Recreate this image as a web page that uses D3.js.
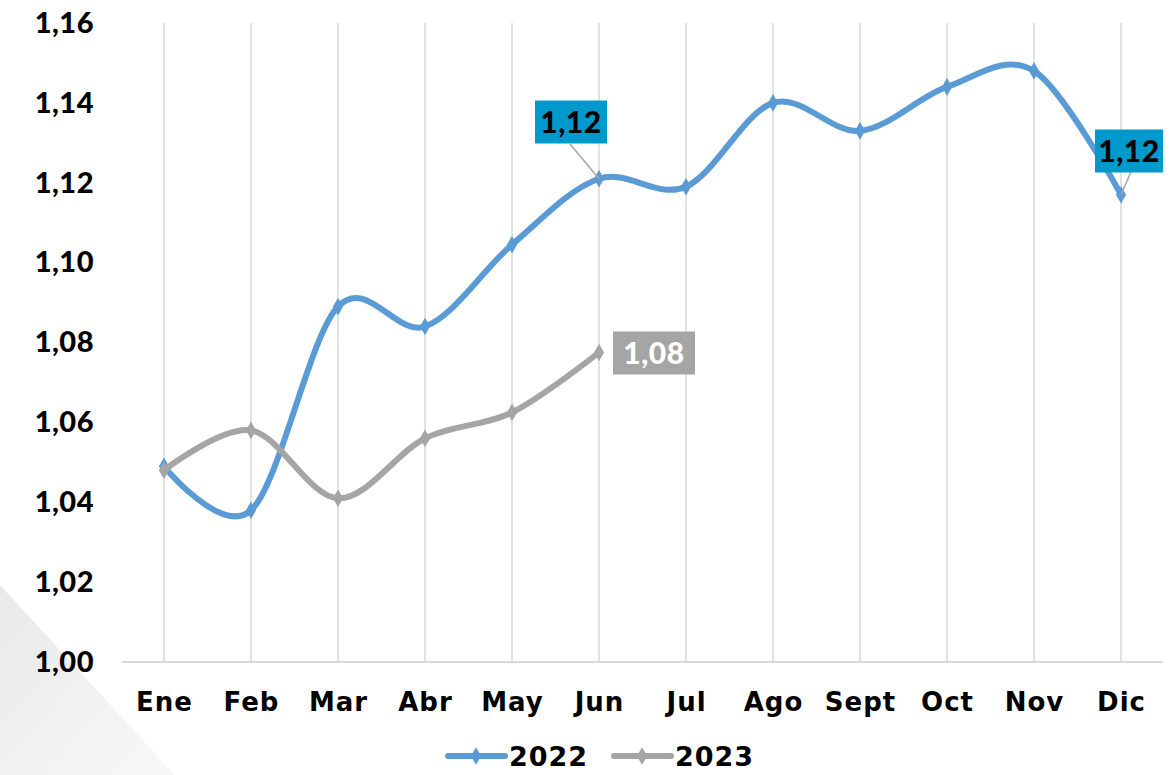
<!DOCTYPE html>
<html>
<head>
<meta charset="utf-8">
<script src="https://cdn.jsdelivr.net/npm/d3@7"></script>
<style>
  body { margin: 0; background: #fff; }
  text { font-family: "Lato", "Open Sans", sans-serif; font-weight: 900; }
</style>
</head>
<body>
<svg id="chart" width="1175" height="775"></svg>
<script>
var months = ["Ene", "Feb", "Mar", "Abr", "May", "Jun", "Jul", "Ago", "Sept", "Oct", "Nov", "Dic"];
var values2022 = [1.049, 1.038, 1.089, 1.084, 1.1045, 1.121, 1.119, 1.140, 1.133, 1.144, 1.148, 1.117];
var values2023 = [1.048, 1.058, 1.041, 1.056, 1.0625, 1.0775];
var yTicks = [1.00, 1.02, 1.04, 1.06, 1.08, 1.10, 1.12, 1.14, 1.16];
var seriesNames = ["2022", "2023"];
var seriesColors = ["#5b9bd5", "#a5a5a5"];

var svg = d3.select("#chart");

// faint background decoration bottom-left
var defs = svg.append("defs");
var grad = defs.append("linearGradient").attr("id", "bg").attr("x1", 0).attr("y1", 0).attr("x2", 1).attr("y2", 1);
grad.append("stop").attr("offset", "0%").attr("stop-color", "#e9e9e9");
grad.append("stop").attr("offset", "100%").attr("stop-color", "#f8f8f8");
svg.append("path")
    .attr("d", "M0,585 L175,775 L0,775 Z")
    .attr("fill", "url(#bg)");

var margin = {left: 122, right: 12, top: 23, bottom: 113};
var width = 1175 - margin.left - margin.right;
var height = 775 - margin.top - margin.bottom;

var x = d3.scalePoint().domain(months).range([margin.left + 42, margin.left + width - 42]);
var y = d3.scaleLinear().domain([1.00, 1.16]).range([margin.top + height, margin.top]);

var fmt = function(v) { return d3.format(".2f")(v).replace(".", ","); };

// vertical gridlines
svg.append("g").selectAll("line").data(months).join("line")
    .attr("x1", d => x(d)).attr("x2", d => x(d))
    .attr("y1", y(1.00)).attr("y2", y(1.16))
    .attr("stroke", "#d9d9d9").attr("stroke-width", 1.5);

// x axis
var xAxis = svg.append("g")
    .attr("transform", "translate(0," + y(1.00) + ")")
    .call(d3.axisBottom(x).tickSize(0).tickPadding(31));
xAxis.select(".domain").attr("d", "M" + margin.left + ",0H" + (margin.left + width)).attr("stroke", "#d9d9d9").attr("stroke-width", 2);
xAxis.selectAll("text").attr("font-size", 26).attr("fill", "#000")
    .attr("letter-spacing", 1)
    .style("font-family", "'DejaVu Sans', sans-serif").style("font-weight", "bold");

// y axis labels
var yAxis = svg.append("g")
    .attr("transform", "translate(94,0)")
    .call(d3.axisLeft(y).tickValues(yTicks).tickFormat(fmt).tickSize(0).tickPadding(0));
yAxis.select(".domain").remove();
yAxis.selectAll("text").attr("font-size", 29).attr("fill", "#000").attr("letter-spacing", 0.5)
    .style("font-family", "Lato, sans-serif").style("font-weight", 900);

var line = d3.line()
    .x((d, i) => x(months[i]))
    .y(d => y(d))
    .curve(d3.curveCardinal.tension(0));

var diamond = d3.symbol().type(d3.symbolDiamond).size(90);

[values2022, values2023].forEach(function(vals, s) {
    svg.append("path").datum(vals)
        .attr("d", line)
        .attr("fill", "none")
        .attr("stroke", seriesColors[s])
        .attr("stroke-width", 6)
        .attr("stroke-linecap", "round");
    svg.append("g").selectAll("path").data(vals).join("path")
        .attr("d", diamond)
        .attr("transform", (d, i) => "translate(" + x(months[i]) + "," + y(d) + ")")
        .attr("fill", seriesColors[s]);
});

// data labels
function label(cx, cy, w, h, fill, txtColor, text, px, py) {
    if (px !== undefined) {
        svg.append("line").attr("x1", px[0]).attr("y1", px[1]).attr("x2", py[0]).attr("y2", py[1])
            .attr("stroke", "#a5a5a5").attr("stroke-width", 1.5);
    }
    svg.append("rect").attr("x", cx - w / 2).attr("y", cy - h / 2).attr("width", w).attr("height", h).attr("fill", fill);
    svg.append("text").attr("x", cx).attr("y", cy).attr("text-anchor", "middle").attr("dy", "0.36em")
        .attr("font-size", 30).attr("letter-spacing", 0.5).attr("fill", txtColor).text(text);
}
var jun = months.indexOf("Jun"), dic = months.indexOf("Dic");
label(x("Jun") - 28, 122, 72, 43, "#0099cc", "#000", fmt(values2022[jun]),
      [x("Jun") - 29, 144], [x("Jun"), y(values2022[jun])]);
label(x("Dic") + 8, 151, 68, 43, "#0099cc", "#000", fmt(values2022[dic]),
      [x("Dic") + 10, 172], [x("Dic"), y(values2022[dic])]);
label(x("Jun") + 55, 353, 82, 43, "#a5a5a5", "#fff", fmt(values2023[5]));

// legend
var legend = svg.append("g").attr("transform", "translate(0,756)");
var lx = [448, 614];
seriesNames.forEach(function(n, i) {
    legend.append("line").attr("x1", lx[i]).attr("x2", lx[i] + 57).attr("y1", 0).attr("y2", 0)
        .attr("stroke", seriesColors[i]).attr("stroke-width", 6).attr("stroke-linecap", "round");
    legend.append("path").attr("d", diamond).attr("transform", "translate(" + (lx[i] + 28) + ",0)").attr("fill", seriesColors[i]);
    legend.append("text").attr("x", lx[i] + 61).attr("y", 0).attr("dy", "0.36em")
        .attr("font-size", 27).attr("letter-spacing", 1).attr("fill", "#000")
        .style("font-family", "'DejaVu Sans', sans-serif").style("font-weight", "bold").text(n);
});
</script>
</body>
</html>
